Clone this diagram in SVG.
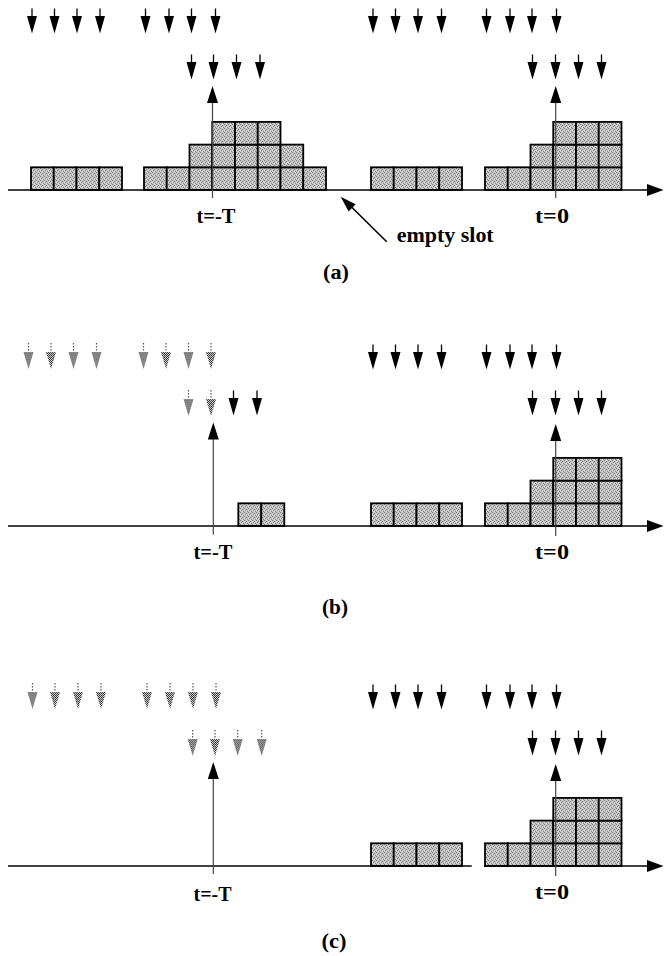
<svg xmlns="http://www.w3.org/2000/svg" xmlns:xlink="http://www.w3.org/1999/xlink" width="664" height="956" viewBox="0 0 664 956">
  <defs>
    <!-- halftone grey used for the packet cells -->
    <pattern id="stip" width="4" height="4" patternUnits="userSpaceOnUse">
      <rect width="4" height="4" fill="#c6c6c6"/>
      <rect x="0" y="0" width="1" height="1" fill="#7c7c7c"/>
      <rect x="2" y="1" width="1" height="1" fill="#7c7c7c"/>
      <rect x="1" y="2" width="1" height="1" fill="#7c7c7c"/>
      <rect x="3" y="3" width="1" height="1" fill="#7c7c7c"/>
      <rect x="2" y="3" width="1" height="1" fill="#e2e2e2"/>
      <rect x="0" y="2" width="1" height="1" fill="#e2e2e2"/>
    </pattern>
    <!-- darker halftone for discarded (ghost) arrivals -->
    <pattern id="stip-dark" width="2" height="2" patternUnits="userSpaceOnUse">
      <rect width="2" height="2" fill="#c8c8c8"/>
      <rect x="0" y="0" width="1" height="1" fill="#333"/>
      <rect x="1" y="1" width="1" height="1" fill="#4a4a4a"/>
    </pattern>
    <!-- solid arrival arrow, origin at the top of its stem -->
    <g id="dn">
      <line x1="0" y1="0" x2="0" y2="8" stroke="#000" stroke-width="1.3"/>
      <polygon points="-5,7.5 5,7.5 0,25" fill="#000"/>
    </g>
    <!-- dotted arrival arrow for packets that are no longer stored -->
    <g id="dn-ghost">
      <line x1="0" y1="0" x2="0" y2="9" stroke="#555" stroke-width="1.2" stroke-dasharray="1.5 1.5"/>
      <polygon points="-5,9 5,9 0,26" fill="url(#stip-dark)"/>
    </g>
    <!-- upward marker of the reference instant -->
    <g id="up">
      <line x1="0" y1="14" x2="0" y2="112" stroke="#444" stroke-width="1.2"/>
      <polygon points="0,0 -5.5,17 5.5,17" fill="#000"/>
    </g>
  </defs>

  <style>
    .cell { fill: url(#stip); stroke: #000; stroke-width: 1.8; }
    .axis { stroke: #000; stroke-width: 1.5; fill: none; }
    .lbl { font-family: "Liberation Serif", "Times New Roman", serif; font-weight: bold; font-size: 20px; fill: #000; }
  </style>

  <!-- ================= (a) ================= -->
  <g id="panel-a">
    <g id="a-arrivals">
      <use href="#dn" x="32" y="8.5"/><use href="#dn" x="54.5" y="8.5"/><use href="#dn" x="77" y="8.5"/><use href="#dn" x="100" y="8.5"/>
      <use href="#dn" x="145.5" y="8.5"/><use href="#dn" x="169" y="8.5"/><use href="#dn" x="191.5" y="8.5"/><use href="#dn" x="215.5" y="8.5"/>
      <use href="#dn" x="373" y="8.5"/><use href="#dn" x="395.5" y="8.5"/><use href="#dn" x="418" y="8.5"/><use href="#dn" x="441.5" y="8.5"/>
      <use href="#dn" x="486.5" y="8.5"/><use href="#dn" x="510" y="8.5"/><use href="#dn" x="532" y="8.5"/><use href="#dn" x="556.5" y="8.5"/>
      <use href="#dn" x="191.5" y="54.5"/><use href="#dn" x="213.5" y="54.5"/><use href="#dn" x="236.5" y="54.5"/><use href="#dn" x="260" y="54.5"/>
      <use href="#dn" x="532.5" y="54.5"/><use href="#dn" x="555.5" y="54.5"/><use href="#dn" x="578.5" y="54.5"/><use href="#dn" x="601.5" y="54.5"/>
    </g>
    <g id="a-slot1">
      <rect class="cell" x="31" y="167.3" width="22.75" height="22.7"/><rect class="cell" x="53.75" y="167.3" width="22.75" height="22.7"/>
      <rect class="cell" x="76.5" y="167.3" width="22.75" height="22.7"/><rect class="cell" x="99.25" y="167.3" width="22.75" height="22.7"/>
    </g>
    <g id="a-slot2">
      <rect class="cell" x="144" y="167.3" width="22.75" height="22.7"/><rect class="cell" x="166.75" y="167.3" width="22.75" height="22.7"/>
      <rect class="cell" x="189.5" y="167.3" width="22.75" height="22.7"/><rect class="cell" x="212.25" y="167.3" width="22.75" height="22.7"/>
      <rect class="cell" x="235" y="167.3" width="22.75" height="22.7"/><rect class="cell" x="257.75" y="167.3" width="22.75" height="22.7"/>
      <rect class="cell" x="280.5" y="167.3" width="22.75" height="22.7"/><rect class="cell" x="303.25" y="167.3" width="22.75" height="22.7"/>
      <rect class="cell" x="189.5" y="144.6" width="22.75" height="22.7"/><rect class="cell" x="212.25" y="144.6" width="22.75" height="22.7"/>
      <rect class="cell" x="235" y="144.6" width="22.75" height="22.7"/><rect class="cell" x="257.75" y="144.6" width="22.75" height="22.7"/>
      <rect class="cell" x="280.5" y="144.6" width="22.75" height="22.7"/>
      <rect class="cell" x="212.25" y="121.9" width="22.75" height="22.7"/><rect class="cell" x="235" y="121.9" width="22.75" height="22.7"/>
      <rect class="cell" x="257.75" y="121.9" width="22.75" height="22.7"/>
    </g>
    <g id="a-slot4">
      <rect class="cell" x="371" y="167.3" width="22.75" height="22.7"/><rect class="cell" x="393.75" y="167.3" width="22.75" height="22.7"/>
      <rect class="cell" x="416.5" y="167.3" width="22.75" height="22.7"/><rect class="cell" x="439.25" y="167.3" width="22.75" height="22.7"/>
    </g>
    <g id="a-slot5">
      <rect class="cell" x="485" y="167.3" width="22.75" height="22.7"/><rect class="cell" x="507.75" y="167.3" width="22.75" height="22.7"/>
      <rect class="cell" x="530.5" y="167.3" width="22.75" height="22.7"/><rect class="cell" x="553.25" y="167.3" width="22.75" height="22.7"/>
      <rect class="cell" x="576" y="167.3" width="22.75" height="22.7"/><rect class="cell" x="598.75" y="167.3" width="22.75" height="22.7"/>
      <rect class="cell" x="530.5" y="144.6" width="22.75" height="22.7"/><rect class="cell" x="553.25" y="144.6" width="22.75" height="22.7"/>
      <rect class="cell" x="576" y="144.6" width="22.75" height="22.7"/><rect class="cell" x="598.75" y="144.6" width="22.75" height="22.7"/>
      <rect class="cell" x="553.25" y="121.9" width="22.75" height="22.7"/><rect class="cell" x="576" y="121.9" width="22.75" height="22.7"/>
      <rect class="cell" x="598.75" y="121.9" width="22.75" height="22.7"/>
    </g>
    <g id="a-connectors">
      <line class="axis" x1="8" y1="190" x2="648" y2="190"/>
      <polygon points="647,184 663.5,190 647,196" fill="#000"/>
      <use href="#up" x="212.5" y="86"/>
      <use href="#up" x="555.7" y="86"/>
      <line x1="386.7" y1="241.7" x2="350" y2="205.5" stroke="#000" stroke-width="1.6"/>
      <polygon points="340.7,196.7 355.6,204.3 348.6,211.5" fill="#000"/>
    </g>
    <text class="lbl" x="216" y="223" text-anchor="middle" textLength="39" lengthAdjust="spacingAndGlyphs">t=-T</text>
    <text class="lbl" x="552" y="223" text-anchor="middle" textLength="34" lengthAdjust="spacingAndGlyphs">t=0</text>
    <text class="lbl" x="396.7" y="242" textLength="97" lengthAdjust="spacingAndGlyphs">empty slot</text>
    <text class="lbl" x="336" y="279" text-anchor="middle" textLength="26" lengthAdjust="spacingAndGlyphs">(a)</text>
  </g>

  <!-- ================= (b) ================= -->
  <g id="panel-b" transform="translate(0,336)">
    <g id="b-arrivals">
      <use href="#dn-ghost" x="28.5" y="7"/><use href="#dn-ghost" x="51" y="7"/><use href="#dn-ghost" x="73.5" y="7"/><use href="#dn-ghost" x="96.5" y="7"/>
      <use href="#dn-ghost" x="143.5" y="7"/><use href="#dn-ghost" x="166" y="7"/><use href="#dn-ghost" x="188.5" y="7"/><use href="#dn-ghost" x="211" y="7"/>
      <use href="#dn" x="373" y="8.5"/><use href="#dn" x="395.5" y="8.5"/><use href="#dn" x="418" y="8.5"/><use href="#dn" x="441.5" y="8.5"/>
      <use href="#dn" x="486.5" y="8.5"/><use href="#dn" x="510" y="8.5"/><use href="#dn" x="532" y="8.5"/><use href="#dn" x="556.5" y="8.5"/>
      <use href="#dn-ghost" x="188.5" y="54"/><use href="#dn-ghost" x="211" y="54"/><use href="#dn" x="233.5" y="54.5"/><use href="#dn" x="257" y="54.5"/>
      <use href="#dn" x="532.5" y="54.5"/><use href="#dn" x="555.5" y="54.5"/><use href="#dn" x="578.5" y="54.5"/><use href="#dn" x="601.5" y="54.5"/>
    </g>
    <g id="b-slot2">
      <rect class="cell" x="238.3" y="167.3" width="23" height="22.7"/><rect class="cell" x="261.3" y="167.3" width="23" height="22.7"/>
    </g>
    <g id="b-slot4">
      <rect class="cell" x="371" y="167.3" width="22.75" height="22.7"/><rect class="cell" x="393.75" y="167.3" width="22.75" height="22.7"/>
      <rect class="cell" x="416.5" y="167.3" width="22.75" height="22.7"/><rect class="cell" x="439.25" y="167.3" width="22.75" height="22.7"/>
    </g>
    <g id="b-slot5">
      <rect class="cell" x="485" y="167.3" width="22.75" height="22.7"/><rect class="cell" x="507.75" y="167.3" width="22.75" height="22.7"/>
      <rect class="cell" x="530.5" y="167.3" width="22.75" height="22.7"/><rect class="cell" x="553.25" y="167.3" width="22.75" height="22.7"/>
      <rect class="cell" x="576" y="167.3" width="22.75" height="22.7"/><rect class="cell" x="598.75" y="167.3" width="22.75" height="22.7"/>
      <rect class="cell" x="530.5" y="144.6" width="22.75" height="22.7"/><rect class="cell" x="553.25" y="144.6" width="22.75" height="22.7"/>
      <rect class="cell" x="576" y="144.6" width="22.75" height="22.7"/><rect class="cell" x="598.75" y="144.6" width="22.75" height="22.7"/>
      <rect class="cell" x="553.25" y="121.9" width="22.75" height="22.7"/><rect class="cell" x="576" y="121.9" width="22.75" height="22.7"/>
      <rect class="cell" x="598.75" y="121.9" width="22.75" height="22.7"/>
    </g>
    <g id="b-connectors">
      <line class="axis" x1="8" y1="190" x2="648" y2="190"/>
      <polygon points="647,184 663.5,190 647,196" fill="#000"/>
      <use href="#up" x="213.3" y="86.5"/>
      <use href="#up" x="555.7" y="88"/>
    </g>
    <text class="lbl" x="213" y="223" text-anchor="middle" textLength="39" lengthAdjust="spacingAndGlyphs">t=-T</text>
    <text class="lbl" x="552" y="223" text-anchor="middle" textLength="34" lengthAdjust="spacingAndGlyphs">t=0</text>
    <text class="lbl" x="335" y="278" text-anchor="middle" textLength="26" lengthAdjust="spacingAndGlyphs">(b)</text>
  </g>

  <!-- ================= (c) ================= -->
  <g id="panel-c" transform="translate(0,676)">
    <g id="c-arrivals">
      <use href="#dn-ghost" x="32.5" y="7"/><use href="#dn-ghost" x="55" y="7"/><use href="#dn-ghost" x="78" y="7"/><use href="#dn-ghost" x="101" y="7"/>
      <use href="#dn-ghost" x="147" y="7"/><use href="#dn-ghost" x="170" y="7"/><use href="#dn-ghost" x="193" y="7"/><use href="#dn-ghost" x="216" y="7"/>
      <use href="#dn" x="373" y="8.5"/><use href="#dn" x="395.5" y="8.5"/><use href="#dn" x="418" y="8.5"/><use href="#dn" x="441.5" y="8.5"/>
      <use href="#dn" x="486.5" y="8.5"/><use href="#dn" x="510" y="8.5"/><use href="#dn" x="532" y="8.5"/><use href="#dn" x="556.5" y="8.5"/>
      <use href="#dn-ghost" x="192.7" y="54"/><use href="#dn-ghost" x="215" y="54"/><use href="#dn-ghost" x="237.7" y="54"/><use href="#dn-ghost" x="261.7" y="54"/>
      <use href="#dn" x="532.5" y="54.5"/><use href="#dn" x="555.5" y="54.5"/><use href="#dn" x="578.5" y="54.5"/><use href="#dn" x="601.5" y="54.5"/>
    </g>
    <g id="c-slot4">
      <rect class="cell" x="371" y="167.3" width="22.75" height="22.7"/><rect class="cell" x="393.75" y="167.3" width="22.75" height="22.7"/>
      <rect class="cell" x="416.5" y="167.3" width="22.75" height="22.7"/><rect class="cell" x="439.25" y="167.3" width="22.75" height="22.7"/>
    </g>
    <g id="c-slot5">
      <rect class="cell" x="485" y="167.3" width="22.75" height="22.7"/><rect class="cell" x="507.75" y="167.3" width="22.75" height="22.7"/>
      <rect class="cell" x="530.5" y="167.3" width="22.75" height="22.7"/><rect class="cell" x="553.25" y="167.3" width="22.75" height="22.7"/>
      <rect class="cell" x="576" y="167.3" width="22.75" height="22.7"/><rect class="cell" x="598.75" y="167.3" width="22.75" height="22.7"/>
      <rect class="cell" x="530.5" y="144.6" width="22.75" height="22.7"/><rect class="cell" x="553.25" y="144.6" width="22.75" height="22.7"/>
      <rect class="cell" x="576" y="144.6" width="22.75" height="22.7"/><rect class="cell" x="598.75" y="144.6" width="22.75" height="22.7"/>
      <rect class="cell" x="553.25" y="121.9" width="22.75" height="22.7"/><rect class="cell" x="576" y="121.9" width="22.75" height="22.7"/>
      <rect class="cell" x="598.75" y="121.9" width="22.75" height="22.7"/>
    </g>
    <g id="c-connectors">
      <line class="axis" x1="8" y1="190" x2="471.7" y2="190"/>
      <line class="axis" x1="484" y1="190" x2="648" y2="190"/>
      <polygon points="647,184 663.5,190 647,196" fill="#000"/>
      <use href="#up" x="213.3" y="86"/>
      <use href="#up" x="555.7" y="88"/>
    </g>
    <text class="lbl" x="212.5" y="225" text-anchor="middle" textLength="38" lengthAdjust="spacingAndGlyphs">t=-T</text>
    <text class="lbl" x="552" y="223" text-anchor="middle" textLength="34" lengthAdjust="spacingAndGlyphs">t=0</text>
    <text class="lbl" x="334" y="272" text-anchor="middle" textLength="25" lengthAdjust="spacingAndGlyphs">(c)</text>
  </g>
</svg>
